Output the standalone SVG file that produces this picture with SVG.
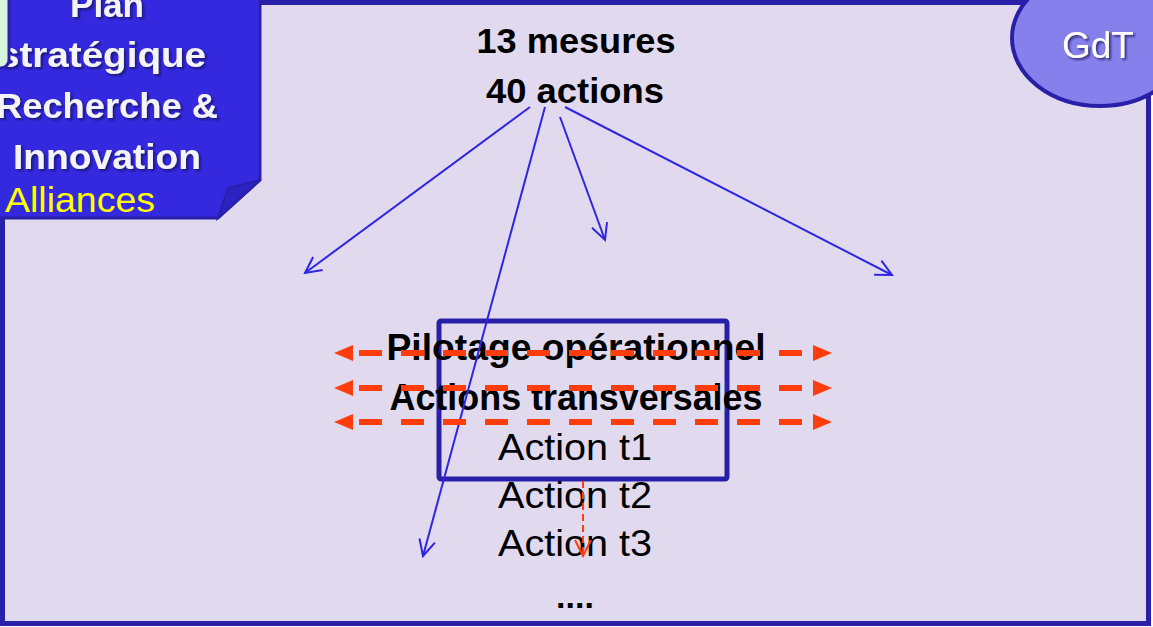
<svg xmlns="http://www.w3.org/2000/svg" width="1153" height="627" viewBox="0 0 1153 627">
<defs>
<style>
.bold{font-family:"Liberation Sans",Arial,sans-serif;font-weight:bold;fill:#000;text-anchor:middle}
.reg{font-family:"Liberation Sans",Arial,sans-serif;fill:#000;text-anchor:middle}
.white{font-family:"Liberation Sans",Arial,sans-serif;font-weight:bold;fill:#f4f4f8;text-anchor:middle;font-size:35px}
.blue{stroke:#2f25e2;stroke-width:2;fill:none}
.red{stroke:#ff3d0c;stroke-width:6;stroke-dasharray:23 19;fill:none}
</style>
<filter id="sh" x="-10%" y="-10%" width="130%" height="140%">
<feDropShadow dx="2" dy="2" stdDeviation="1.2" flood-color="#101050" flood-opacity="0.7"/>
</filter>
<marker id="open" viewBox="0 0 20 20" refX="18" refY="10" markerWidth="20" markerHeight="20" markerUnits="userSpaceOnUse" orient="auto">
<path d="M2,2 L18,10 L2,18" fill="none" stroke="#2f25e2" stroke-width="2"/>
</marker>
<marker id="redopen" viewBox="0 0 20 20" refX="18" refY="10" markerWidth="20" markerHeight="20" markerUnits="userSpaceOnUse" orient="auto">
<path d="M2,2 L18,10 L2,18" fill="none" stroke="#ff3d0c" stroke-width="2"/>
</marker>
</defs>

<g id="frame">
<rect x="2.5" y="2.5" width="1146" height="621" fill="#e1daef" stroke="#2a1fa8" stroke-width="5"/>
</g>

<g id="plan-box">
<path d="M-5,-5 L260,-5 L260,180 L218,218 L-5,218 Z" fill="#3429de" stroke="#2a1fa8" stroke-width="3"/>
<path d="M218,218 L228,188 L260,180 Z" fill="#2c22c2" stroke="#2a1fa8" stroke-width="2"/>
<g filter="url(#sh)">
<text class="white" x="107" y="17">Plan</text>
<text class="white" x="102" y="67" textLength="208" lengthAdjust="spacingAndGlyphs">stratégique</text>
<text class="white" x="107" y="118" textLength="222" lengthAdjust="spacingAndGlyphs">Recherche &amp;</text>
<text class="white" x="107" y="169" textLength="188" lengthAdjust="spacingAndGlyphs">Innovation</text>
</g>
<text x="5" y="212" font-family="Liberation Sans, Arial, sans-serif" font-size="35" fill="#ffff00" textLength="150" lengthAdjust="spacingAndGlyphs">Alliances</text>
</g>

<g id="green-tab">
<rect x="-20" y="-10" width="29" height="78" rx="8" fill="#d5f5dc" stroke="#2a1fa8" stroke-width="3"/>
</g>

<g id="gdt">
<ellipse cx="1100" cy="38" rx="88" ry="68" fill="#8680ec" stroke="#2a1fa8" stroke-width="4"/>
<text x="1098" y="58" font-family="Liberation Sans, Arial, sans-serif" font-size="37" fill="#ffffff" text-anchor="middle" filter="url(#sh)">GdT</text>
</g>

<g id="title">
<text class="bold" x="576" y="53" font-size="35" textLength="199" lengthAdjust="spacingAndGlyphs">13 mesures</text>
<text class="bold" x="575" y="103" font-size="35" textLength="178" lengthAdjust="spacingAndGlyphs">40 actions</text>
</g>

<g id="pilotage">
<rect x="439" y="321" width="288" height="158" rx="2" fill="none" stroke="#2a1fa8" stroke-width="5"/>
<text class="bold" x="576" y="360" font-size="36" textLength="379" lengthAdjust="spacingAndGlyphs">Pilotage opérationnel</text>
<text class="bold" x="576" y="410" font-size="36" textLength="373" lengthAdjust="spacingAndGlyphs">Actions transversales</text>
<text class="reg" x="575" y="460" font-size="36" textLength="154" lengthAdjust="spacingAndGlyphs">Action t1</text>
<text class="reg" x="575" y="508" font-size="36" textLength="154" lengthAdjust="spacingAndGlyphs">Action t2</text>
<text class="reg" x="575" y="556" font-size="36" textLength="154" lengthAdjust="spacingAndGlyphs">Action t3</text>
<text class="bold" x="575" y="608" font-size="34">....</text>
</g>

<g id="connectors">
<line class="blue" x1="530" y1="107" x2="305" y2="273" marker-end="url(#open)"/>
<line class="blue" x1="545" y1="107" x2="423" y2="556" marker-end="url(#open)"/>
<line class="blue" x1="560" y1="117" x2="605" y2="240" marker-end="url(#open)"/>
<line class="blue" x1="565" y1="107" x2="892" y2="275" marker-end="url(#open)"/>

<g fill="#ff3d0c">
<line class="red" x1="359" y1="353" x2="813" y2="353"/>
<path d="M334,353 L353,345 L353,361 Z"/>
<path d="M832,353 L813,345 L813,361 Z"/>
<line class="red" x1="359" y1="388" x2="813" y2="388"/>
<path d="M334,388 L353,380 L353,396 Z"/>
<path d="M832,388 L813,380 L813,396 Z"/>
<line class="red" x1="359" y1="422" x2="813" y2="422"/>
<path d="M334,422 L353,414 L353,430 Z"/>
<path d="M832,422 L813,414 L813,430 Z"/>
</g>
<line x1="583" y1="481" x2="583" y2="556" stroke="#ff3d0c" stroke-width="2" stroke-dasharray="7 4" marker-end="url(#redopen)"/>
</g>
</svg>
